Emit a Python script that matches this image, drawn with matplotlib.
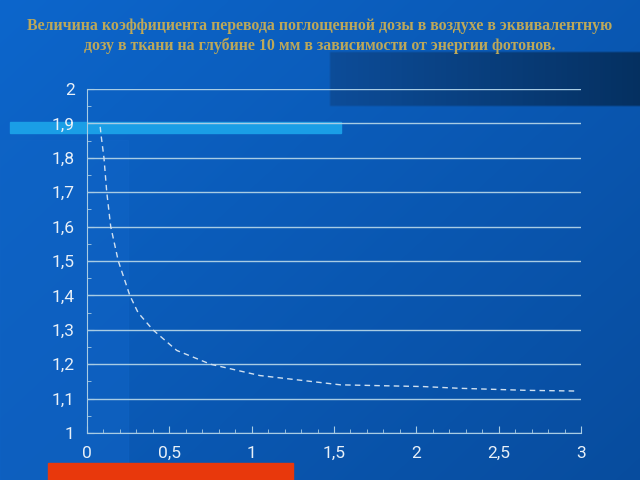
import matplotlib
matplotlib.use('Agg')
import matplotlib.pyplot as plt
from matplotlib.patches import Rectangle
from matplotlib.ticker import MultipleLocator, FuncFormatter
import numpy as np

# данные
energy = [0.08, 0.087, 0.103, 0.12, 0.144, 0.19, 0.26, 0.31, 0.40, 0.545, 0.75, 1.05, 1.54, 2.04, 2.26, 2.67, 2.97]
coef = [1.89, 1.86, 1.80, 1.70, 1.60, 1.50, 1.40, 1.35, 1.30, 1.24, 1.20, 1.167, 1.14, 1.135, 1.13, 1.124, 1.122]
title = ('Величина коэффициента перевода поглощенной дозы в воздухе в эквивалентную\n'
         'дозу в ткани на глубине 10 мм в зависимости от энергии фотонов.')

fig = plt.figure(figsize=(6.4, 4.8), dpi=100)

# фон слайда (градиент)
bg = fig.add_axes([0, 0, 1, 1], zorder=-10)
gx = np.linspace(0, 1, 320)
gy = np.linspace(0, 1, 240)
X, Y = np.meshgrid(gx, gy)
t = 0.55 * X + 0.45 * Y
c0 = np.array([0.05, 0.40, 0.80])
c1 = np.array([0.03, 0.30, 0.62])
img = c0[None, None, :] * (1 - t[..., None]) + c1[None, None, :] * t[..., None]
# тёмная полоса справа вверху
band = (X >= 330 / 640) & (Y >= 52 / 480) & (Y <= 105 / 480)
s = np.clip((X - 330 / 640) / (310 / 640), 0, 1)
dark0 = np.array([0.05, 0.30, 0.60])
dark1 = np.array([0.02, 0.19, 0.38])
dark = dark0[None, None, :] * (1 - s[..., None]) + dark1[None, None, :] * s[..., None]
img[band] = dark[band]
bg.imshow(img, extent=[0, 1, 0, 1], aspect='auto', origin='upper', interpolation='bilinear')
bg.set_xlim(0, 1)
bg.set_ylim(0, 1)
bg.axis('off')

# полоски оформления
fig.patches.append(Rectangle((0, 0), 128 / 640, 1 - 140 / 480,
                             transform=fig.transFigure, color='#1064c6', alpha=0.55, zorder=-5))
fig.patches.append(Rectangle((10 / 640, 1 - 133 / 480), 331 / 640, 11 / 480,
                             transform=fig.transFigure, color='#1a9ee6', zorder=-4))
fig.patches.append(Rectangle((48 / 640, 0), 245 / 640, 17 / 480,
                             transform=fig.transFigure, color='#e8380c', zorder=-4))

fig.text(0.5, 0.962, title, ha='center', va='top', color='#bca85a',
         fontsize=11.4, fontweight='bold', family='Liberation Serif', linespacing=1.3)

ax = fig.add_axes([87 / 640, 47 / 480, 494 / 640, 344 / 480])
ax.patch.set_alpha(0)
ax.plot(energy, coef, color='#d0e0f0', lw=1.0, ls=(0, (4, 3)))
ax.set_xlim(0, 3)
ax.set_ylim(1, 2)
ax.xaxis.set_major_locator(MultipleLocator(0.5))
ax.yaxis.set_major_locator(MultipleLocator(0.1))
ax.xaxis.set_minor_locator(MultipleLocator(0.1))
ax.yaxis.set_minor_locator(MultipleLocator(0.05))
fmt = FuncFormatter(lambda v, p: ('%g' % round(v, 2)).replace('.', ','))
ax.xaxis.set_major_formatter(fmt)
ax.yaxis.set_major_formatter(fmt)
ax.grid(axis='y', color='#a8cce4', lw=1.0)
for sp in ['top', 'right']:
    ax.spines[sp].set_visible(False)
for sp in ['left', 'bottom']:
    ax.spines[sp].set_color('#a8cce4')
ax.tick_params(colors='#a8cce4', labelcolor='#e8f0f8', labelsize=12.5, direction='in', length=5)
ax.tick_params(which='minor', colors='#a8cce4', direction='in', length=3)
ax.tick_params(axis='x', pad=9)
ax.tick_params(axis='y', pad=9)
for lab in ax.get_xticklabels() + ax.get_yticklabels():
    lab.set_family(['Liberation Sans Narrow', 'Roboto'])

fig.savefig('out.png', dpi=100)
